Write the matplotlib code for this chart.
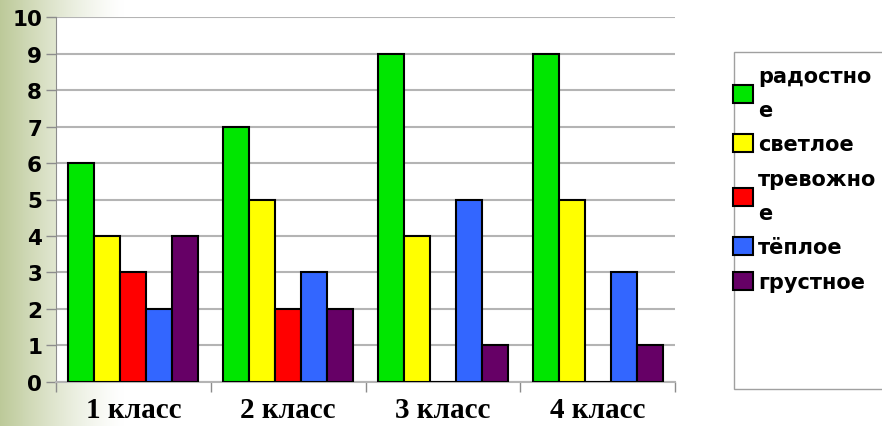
import numpy as np
import matplotlib
matplotlib.use("Agg")
import matplotlib.pyplot as plt
from matplotlib.patches import Patch, Rectangle

# данные
categories = ['1 класс', '2 класс', '3 класс', '4 класс']
series_names = ['радостно\nе', 'светлое', 'тревожно\nе', 'тёплое', 'грустное']
radostno = [6, 7, 9, 9]
svetloe = [4, 5, 4, 5]
trevozhno = [3, 2, 0, 0]
teploe = [2, 3, 5, 3]
grustnoe = [4, 2, 1, 1]
values = [radostno, svetloe, trevozhno, teploe, grustnoe]
colors = ['#00e600', '#ffff00', '#ff0000', '#3366ff', '#660066']

fig = plt.figure(figsize=(8.82, 4.27), dpi=100)

# фон - зеленоватая полоса слева
bg = fig.add_axes([0, 0, 1, 1], zorder=-10)
w = 882
xs = np.linspace(0, 1, w)
fade = np.clip(1 - xs / 0.14, 0, 1) ** 1.3
base = np.array([0.74, 0.79, 0.60])
img = np.ones((10, w, 3))
for c in range(3):
    img[:, :, c] = 1 - (1 - base[c]) * fade
bg.imshow(img, aspect='auto', extent=[0, 1, 0, 1])
bg.set_axis_off()

ax = fig.add_axes([56 / 882, 1 - 382.7 / 427, (675 - 56) / 882, (382.7 - 18.3) / 427])
ax.set_facecolor('white')

x = np.arange(len(categories))
bw = 0.168
for i, (vals, col) in enumerate(zip(values, colors)):
    ax.bar(x + (i - 2) * bw, vals, bw, color=col, edgecolor='black',
           linewidth=1.5, zorder=3)

ax.set_xlim(-0.5, 3.5)
ax.set_ylim(0, 10)
ax.set_yticks(range(11))
ax.yaxis.grid(True, color='#b4b4b4', linewidth=1.5, zorder=0)
ax.set_axisbelow(True)

for s in ['top', 'right']:
    ax.spines[s].set_visible(False)
ax.spines['left'].set_color('#8c8c8c')
ax.spines['bottom'].set_color('#b4b4b4')
ax.spines['bottom'].set_linewidth(1.5)

ax.tick_params(axis='y', length=7, width=1, color='#8c8c8c', pad=3,
               labelsize=15.5)
for lab in ax.get_yticklabels():
    lab.set_fontweight('bold')

ax.set_xticks(x)
ax.set_xticklabels(categories, fontfamily='Liberation Serif', fontweight='bold',
                   fontsize=21)
ax.tick_params(axis='x', which='major', length=0, pad=10.5)
ax.set_xticks(np.arange(-0.5, 4, 1), minor=True)
ax.tick_params(axis='x', which='minor', length=7, width=1, color='#8c8c8c')

# рамка легенды (уходит за правый край)
fig.patches.append(Rectangle((734 / 882, 1 - 390 / 427), 200 / 882, 337 / 427,
                             transform=fig.transFigure, facecolor='white',
                             edgecolor='#a0a0a0', linewidth=1, zorder=1))

handles = [Patch(facecolor=c, edgecolor='black', linewidth=1.5) for c in colors]
leg = fig.legend(handles, series_names, loc='upper left',
                 bbox_to_anchor=(733 / 882, 1 - 67 / 427), frameon=False,
                 prop={'weight': 'bold', 'size': 15},
                 handlelength=0.95, handleheight=0.95, handletextpad=0.25,
                 borderpad=0, borderaxespad=0, labelspacing=0.7)
leg.set_zorder(5)
for t in leg.get_texts():
    t.set_linespacing(1.85)

fig.savefig('out.png', dpi=100)
